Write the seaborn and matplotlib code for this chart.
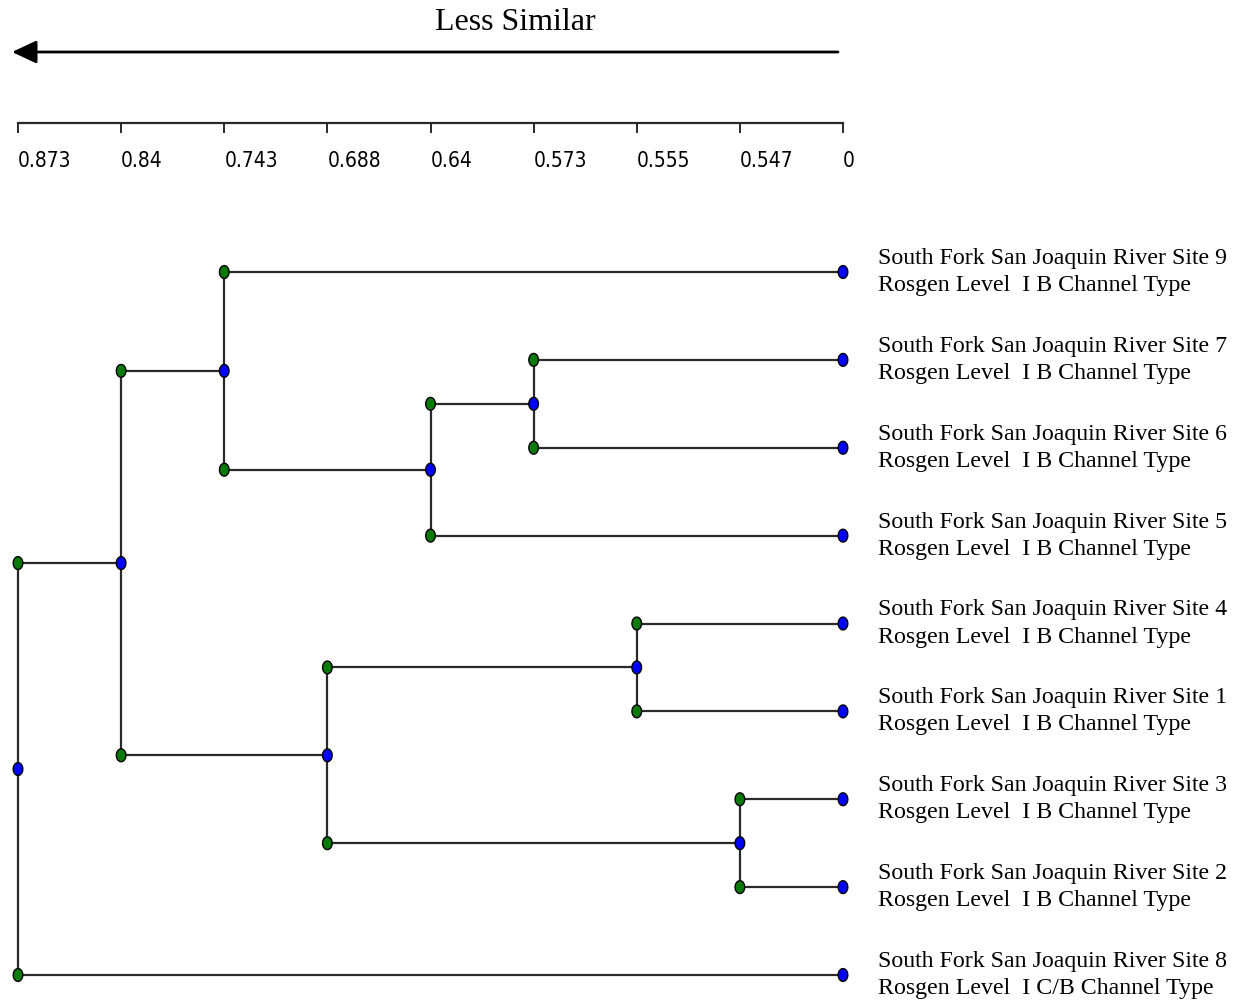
import numpy as np
import pandas as pd
import matplotlib
matplotlib.use("Agg")
import matplotlib.pyplot as plt
import seaborn as sns

# ---------------- data ----------------
leaf_sites = ["Site 9", "Site 7", "Site 6", "Site 5", "Site 4",
              "Site 1", "Site 3", "Site 2", "Site 8"]
leaf_channel = ["B", "B", "B", "B", "B", "B", "B", "B", "C/B"]
level_labels = ["0.873", "0.84", "0.743", "0.688", "0.64",
                "0.573", "0.555", "0.547", "0"]
# merges: cluster Ck is formed by merge k (1-indexed)
merge_a = ["Site 7", "C1", "Site 9", "Site 4", "Site 3", "C4", "C3", "C7"]
merge_b = ["Site 6", "Site 5", "C2", "Site 1", "Site 2", "C5", "C6", "Site 8"]
merge_level = [5, 4, 2, 6, 7, 3, 1, 0]
title_text = "Less Similar"

# ---------------- build tree geometry ----------------
leaf_level = len(level_labels) - 1
pos = {}
for i, s in enumerate(leaf_sites):
    pos[s] = (leaf_level, float(i))

nodes = []   # x, y, kind
segs = []
for s in leaf_sites:
    nodes.append((pos[s][0], pos[s][1], "join"))
for k, (a, b, lv) in enumerate(zip(merge_a, merge_b, merge_level), start=1):
    xa, ya = pos[a]
    xb, yb = pos[b]
    ym = (ya + yb) / 2
    segs.append(((xa, lv), (ya, ya)))
    segs.append(((xb, lv), (yb, yb)))
    segs.append(((lv, lv), (ya, yb)))
    nodes.append((lv, ya, "merge"))
    nodes.append((lv, yb, "merge"))
    nodes.append((lv, ym, "join"))
    pos[f"C{k}"] = (lv, ym)

df_nodes = pd.DataFrame(nodes, columns=["x", "y", "kind"])

# ---------------- style ----------------
sns.set_theme(style="white")
plt.rcParams["font.family"] = ["Liberation Serif", "DejaVu Serif"]

W, H = 1236, 1000
fig = plt.figure(figsize=(W / 100, H / 100), dpi=100)

x_left, x_right = 18, 843
y_top_px, y_bot_px = 240, 995
leaf0_px, leafN_px = 272, 975
unit = (leafN_px - leaf0_px) / (len(leaf_sites) - 1)
ylim_top = (y_top_px - leaf0_px) / unit
ylim_bot = (y_bot_px - leaf0_px) / unit

ax = fig.add_axes([x_left / W, 1 - y_bot_px / H,
                   (x_right - x_left) / W, (y_bot_px - y_top_px) / H])

line_col = "#2a2a2a"
for (xs, ys) in segs:
    ax.plot(xs, ys, color=line_col, lw=1.6, solid_capstyle="butt", zorder=1,
            clip_on=False)

t = np.linspace(0, 2 * np.pi, 40)
ell = list(zip(0.75 * np.cos(t), np.sin(t)))
sns.scatterplot(data=df_nodes, x="x", y="y", hue="kind",
                palette={"merge": "#0a7a0a", "join": "#0000ff"},
                marker=ell, s=85, edgecolor="black", linewidth=1.0,
                legend=False, ax=ax, zorder=3, clip_on=False)
ax.set_xlim(0, leaf_level)
ax.set_ylim(ylim_bot, ylim_top)
ax.axis("off")

for i, (s, c) in enumerate(zip(leaf_sites, leaf_channel)):
    ax.annotate(f"South Fork San Joaquin River {s}\nRosgen Level  I {c} Channel Type",
                xy=(leaf_level, i), xytext=(35, 0), textcoords="offset pixels",
                ha="left", va="center", fontsize=17.2, linespacing=1.38,
                color="black", annotation_clip=False)

# ---------------- top scale axis ----------------
spine_px = 123
axt = fig.add_axes([x_left / W, 1 - spine_px / H, (x_right - x_left) / W, 0.0001])
axt.set_xlim(0, leaf_level)
axt.set_yticks([])
for sp in ["top", "left", "right"]:
    axt.spines[sp].set_visible(False)
axt.spines["bottom"].set_color(line_col)
axt.spines["bottom"].set_linewidth(1.6)
axt.set_xticks(range(len(level_labels)))
axt.set_xticklabels(level_labels)
axt.tick_params(axis="x", bottom=True, direction="out", length=7.2, width=1.4,
                color=line_col, pad=13, labelsize=15, labelcolor="black")
for lab in axt.get_xticklabels():
    lab.set_ha("left")
    lab.set_fontfamily(["DejaVu Sans"])
    lab.set_fontstretch("condensed")
axt.patch.set_alpha(0)

# ---------------- arrow + title ----------------
fig.patches.append(matplotlib.patches.FancyArrowPatch(
    posA=(838 / W, 1 - 52 / H), posB=(12 / W, 1 - 52 / H),
    transform=fig.transFigure, arrowstyle="-|>,head_length=0.75,head_width=0.35",
    mutation_scale=20, color="black", lw=2.0, shrinkA=0, shrinkB=0))
fig.text(515 / W, 1 - 23 / H, title_text, ha="center", va="center",
         fontsize=23, color="black")

fig.savefig("out.png", dpi=100)
